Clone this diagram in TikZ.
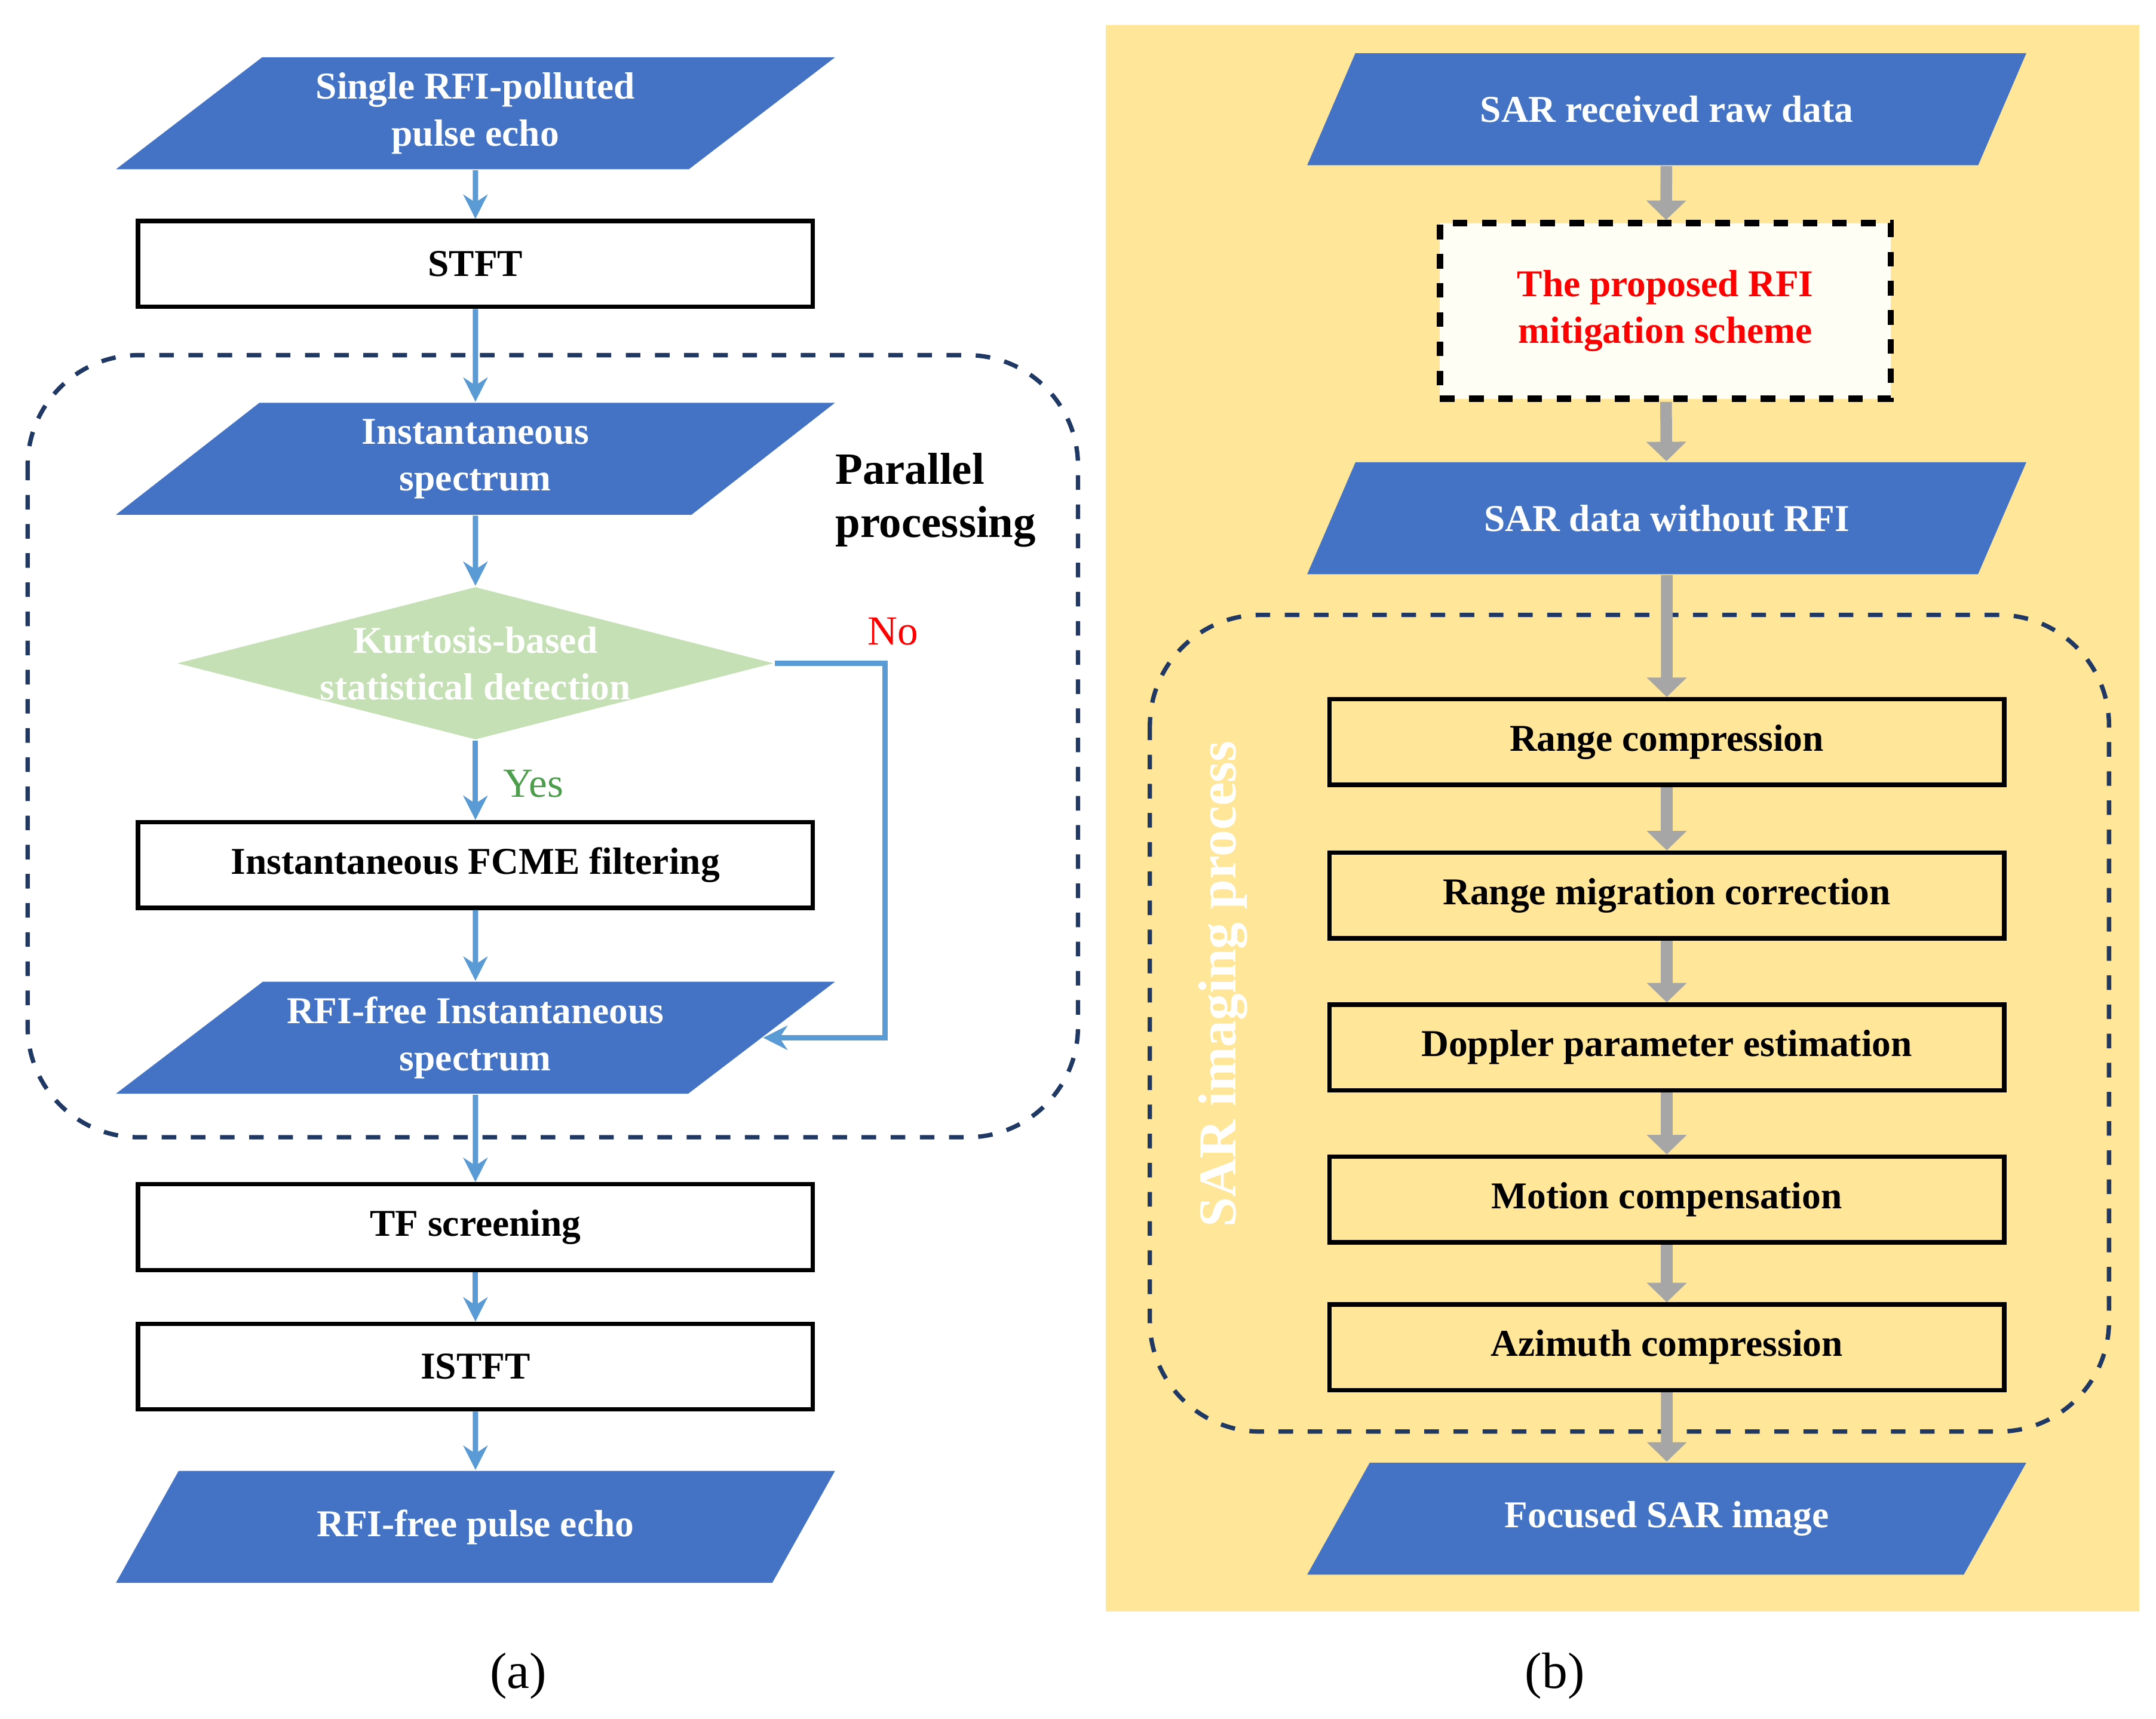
\documentclass[tikz,border=0pt]{standalone}
\usepackage{fontspec}
\setmainfont{Liberation Serif}
\usetikzlibrary{positioning, arrows.meta, shapes.geometric}
\definecolor{parablue}{HTML}{4472C4}
\definecolor{linkblue}{HTML}{5B9BD5}
\definecolor{navy}{HTML}{203864}
\definecolor{sand}{HTML}{FFE699}
\definecolor{sage}{HTML}{C5E0B4}

\begin{document}
\begin{tikzpicture}[
    x=0.01cm, y=-0.01cm,
    font=\fontsize{7.8}{9.6}\selectfont\bfseries,
    para/.style={trapezium, trapezium left angle=29, trapezium right angle=151,
        trapezium stretches body, minimum width=5.2cm, minimum height=0.81cm,
        fill=parablue, text=white, align=center, inner sep=0pt},
    box/.style={rectangle, draw=black, line width=0.9pt, fill=white,
        minimum width=4.88cm, minimum height=0.62cm, inner sep=0pt},
    ybox/.style={box, fill=sand},
    region/.style={draw=navy, dashed, line width=0.9pt, rounded corners=0.8cm},
    link/.style={draw=linkblue, line width=1.1pt, -{Stealth[length=5pt,width=5pt]}},
    gray link/.style={draw=black!35, line width=2.4pt, -{Triangle[length=4pt,width=8pt]}}
]
\useasboundingbox (0,0) rectangle (1560,1244);

% Panel (a)
\draw[region] (20,257) rectangle (780,823);
\node[para] (echo) at (344,82) {Single RFI-polluted\\pulse echo};
\node[box] (stft) at (344,191) {STFT};
\node[para] (spec) at (344,332) {Instantaneous\\spectrum};
\node[diamond, fill=sage, text=white, align=center, aspect=3.9,
    inner sep=0pt] (kurt) at (344,480) {Kurtosis-based\\statistical detection};
\node[box] (fcme) at (344,626) {Instantaneous FCME filtering};
\node[para] (clean) at (344,751) {RFI-free Instantaneous\\spectrum};
\node[box] (tfs) at (344,888) {TF screening};
\node[box] (istft) at (344,989) {ISTFT};
\node[para] (out) at (344,1105) {RFI-free pulse echo};
\node[align=left, font=\fontsize{9.2}{11}\selectfont\bfseries] (par) at (677,362) {Parallel\\processing};
\node[text=red, font=\fontsize{8.5}{10}\selectfont] (no) at (646,457) {No};
\node[text=green!45!black!70, font=\fontsize{8.5}{10}\selectfont] (yes) at (386,567) {Yes};

\draw[link] (echo) -- (stft);
\draw[link] (stft) -- (spec);
\draw[link] (spec) -- (kurt);
\draw[link] (kurt) -- (fcme);
\draw[link] (fcme) -- (clean);
\draw[link] (clean) -- (tfs);
\draw[link] (tfs) -- (istft);
\draw[link] (istft) -- (out);
\draw[link] (kurt.east) -- ++(80,0) |- (clean.east);

\node[font=\fontsize{10.5}{12}\selectfont] (capa) at (375,1213) {(a)};

% Panel (b)
\fill[sand] (800,18) rectangle (1548,1166);
\draw[region] (832,445) rectangle (1526,1036);
\node[para] (raw) at (1206,79) {SAR received raw data};
\node[draw=black, dashed, line width=1.3pt, fill=yellow!4, text=red, align=center,
    minimum width=3.26cm, minimum height=1.27cm] (rfim) at (1205,225) {The proposed RFI\\mitigation scheme};
\node[para] (norfi) at (1206,375) {SAR data without RFI};
\node[ybox] (rc) at (1206,537) {Range compression};
\node[ybox] (rmc) at (1206,648) {Range migration correction};
\node[ybox] (dop) at (1206,758) {Doppler parameter estimation};
\node[ybox] (mc) at (1206,868) {Motion compensation};
\node[ybox] (ac) at (1206,975) {Azimuth compression};
\node[para] (img) at (1206,1099) {Focused SAR image};
\node[rotate=90, text=white, font=\fontsize{11}{13}\selectfont\bfseries] (sarimg) at (885,712) {SAR imaging process};

\draw[gray link] (raw) -- (rfim);
\draw[gray link] (rfim) -- (norfi);
\draw[gray link] (norfi) -- (rc);
\draw[gray link] (rc) -- (rmc);
\draw[gray link] (rmc) -- (dop);
\draw[gray link] (dop) -- (mc);
\draw[gray link] (mc) -- (ac);
\draw[gray link] (ac) -- (img);

\node[font=\fontsize{10.5}{12}\selectfont] (capb) at (1125,1213) {(b)};
\end{tikzpicture}
\end{document}
